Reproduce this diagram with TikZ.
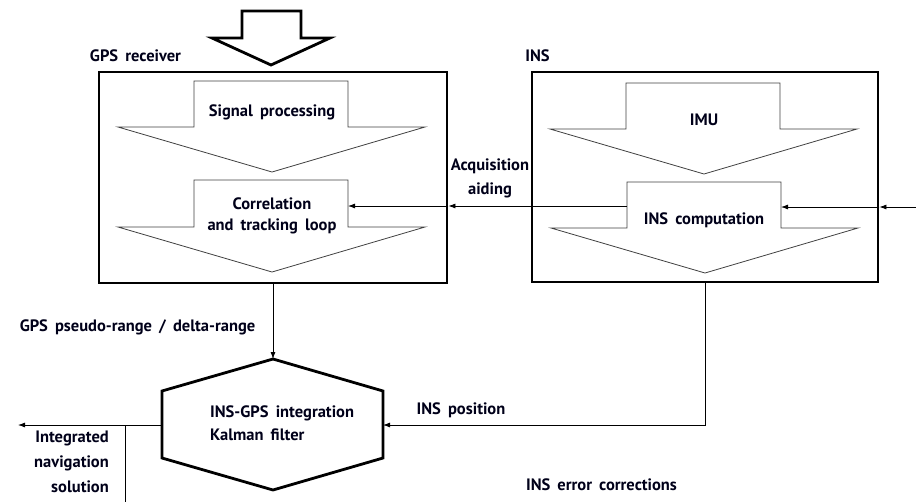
\documentclass[tikz,border=0pt]{standalone}
\usepackage{fontspec}
\setmainfont[WordSpace=1.7]{PT Sans}
\usetikzlibrary{arrows.meta}
\begin{document}
\begin{tikzpicture}[x=1pt,y=-1pt,
  box/.style={draw,line width=2.8pt,minimum width=#1,inner sep=0pt},
  fat/.style={draw=black!75,line width=0.8pt,fill=white},
  topfat/.style={draw,line width=2.8pt,fill=white,line join=miter},
  conn/.style={draw,line width=0.8pt,-{Latex[length=7pt,width=5pt]}},
  plain/.style={draw,line width=0.8pt},
  lbl/.style={font=\bfseries\fontsize{16.5}{20}\selectfont,inner sep=0pt,text=black!90!blue},
  hexa/.style={draw,line width=2.8pt,line join=miter}]
\useasboundingbox (0,0) rectangle (916,501);
% boxes
\node[box=348pt,minimum height=211pt] (gps) at (273,177.5) {};
\node[box=346pt,minimum height=210pt] (ins) at (705,177) {};
% top fat arrow
\draw[topfat] (242,11) -- (301,11) -- (301,38) -- (330,38) -- (271,65) -- (212,38) -- (242,38) -- cycle;
% inner arrows GPS
\draw[fat] (194,81) -- (348,81) -- (348,127) -- (425,127) -- (272,172) -- (118,127) -- (194,127) -- cycle;
\draw[fat] (194,180) -- (348,180) -- (348,227) -- (425,227) -- (272,272) -- (118,227) -- (194,227) -- cycle;
% inner arrows INS
\draw[fat] (626,83) -- (780,83) -- (780,129) -- (857,129) -- (704,174) -- (550,129) -- (626,129) -- cycle;
\draw[fat] (627,182) -- (781,182) -- (781,228) -- (858,228) -- (705,273) -- (551,228) -- (627,228) -- cycle;
% hexagon
\coordinate (hexN) at (273,359);
\coordinate (hexE) at (383,425);
\coordinate (hexW) at (162,425);
\draw[hexa] (hexN) -- (383,391) -- (383,458) -- (273,490) -- (162,458) -- (162,391) -- cycle;
% connector coordinates
\coordinate (corrE) at (348,206);
\coordinate (inscW) at (627,206);
\coordinate (inscE) at (781,207);
\coordinate (rightin) at (918,207);
\coordinate (outW) at (18,425);
\coordinate (tapT) at (125,425);
\coordinate (tapB) at (125,503);
\coordinate (insbend) at (ins.south |- hexE);
% connectors
\draw[conn] (inscW) -- (gps.east |- inscW);
\draw[conn] (gps.east |- inscW) -- (corrE);
\draw[conn] (rightin) -- (ins.east |- rightin);
\draw[conn] (ins.east |- rightin) -- (inscE);
\draw[conn] (gps.south) -- (hexN);
\draw[conn] (ins.south) -- (insbend) -- (hexE);
\draw[conn] (hexW) -- (outW);
\draw[plain] (tapT) -- (tapB);
% labels
\node[lbl] (lgps) at (135.5,56) {GPS receiver};
\node[lbl] (lins) at (537.5,56) {INS};
\node[lbl] (lsig) at (272,112) {Signal processing};
\node[lbl,align=center,font=\bfseries\fontsize{16.5}{21}\selectfont] (lcorr) at (272,215.5) {Correlation\\and tracking loop};
\node[lbl,align=center,font=\bfseries\fontsize{16.5}{24}\selectfont] (lacq) at (490,178) {Acquisition\\aiding};
\node[lbl] (limu) at (704,120) {IMU};
\node[lbl] (lcomp) at (704,220) {INS computation};
\node[lbl] (lpr) at (137.5,327) {GPS pseudo-range / delta-range};
\node[lbl,align=left,anchor=west,font=\bfseries\fontsize{16.5}{23}\selectfont] (lkal) at (210,423.5) {INS-GPS integration\\Kalman filter};
\node[lbl] (lpos) at (461,410) {INS position};
\node[lbl,align=right,anchor=east,font=\bfseries\fontsize{16.5}{25}\selectfont] (lout) at (109,462) {Integrated\\navigation\\solution};
\node[lbl] (lerr) at (601.5,485) {INS error corrections};
\end{tikzpicture}
\end{document}
